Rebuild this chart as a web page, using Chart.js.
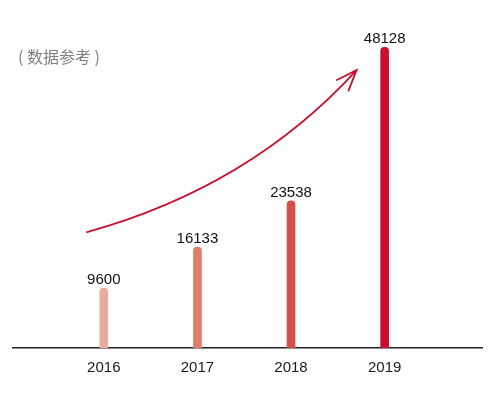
<!DOCTYPE html>
<html>
<head>
<meta charset="utf-8">
<script src="https://cdn.jsdelivr.net/npm/chart.js@4/dist/chart.umd.min.js"></script>
<style>
  html, body { margin: 0; padding: 0; background: #fff; }
  .grafico { width: 500px; height: 393px; position: relative; }
</style>
</head>
<body>
<div class="grafico"><canvas id="meuGrafico"></canvas></div>
<script>
// dados
const anos = [2016, 2017, 2018, 2019]
const valores = [9600, 16133, 23538, 48128]
const cores = ['#e9ab9c', '#dd7d6e', '#d2524a', '#c8102e']
const nota = '( 数据参考 )'
// seta de tendencia (pontos em unidades do grafico: ano, valor)
const setaInicio = [2015.82, 18560]
const setaControle = [2017.56, 25760]
const setaFim = [2018.70, 44480]

const fonte = '"Liberation Sans", Arial, sans-serif'

const pontos = anos.map((a, i) => ({ x: a, y: valores[i] }))

const pluginTextos = {
    id: 'textos',
    afterDatasetsDraw(chart) {
        const ctx = chart.ctx
        const meta = chart.getDatasetMeta(0)
        ctx.save()
        ctx.fillStyle = '#111'
        ctx.font = '15px ' + fonte
        ctx.textAlign = 'center'
        ctx.textBaseline = 'alphabetic'
        meta.data.forEach((bar, i) => {
            ctx.fillText(String(valores[i]), bar.x, bar.y - 4)
        })

        // seta
        const sx = chart.scales.x, sy = chart.scales.y
        const p0 = [sx.getPixelForValue(setaInicio[0]), sy.getPixelForValue(setaInicio[1])]
        const c = [sx.getPixelForValue(setaControle[0]), sy.getPixelForValue(setaControle[1])]
        const p2 = [sx.getPixelForValue(setaFim[0]), sy.getPixelForValue(setaFim[1])]
        ctx.strokeStyle = '#c8102e'
        ctx.lineWidth = 1.8
        ctx.lineCap = 'round'
        ctx.beginPath()
        ctx.moveTo(p0[0], p0[1])
        ctx.quadraticCurveTo(c[0], c[1], p2[0], p2[1])
        ctx.stroke()
        const ang = Math.atan2(p2[1] - c[1], p2[0] - c[0])
        const tam = 22, abre = 21 * Math.PI / 180
        ctx.beginPath()
        ctx.moveTo(p2[0] - tam * Math.cos(ang - abre), p2[1] - tam * Math.sin(ang - abre))
        ctx.lineTo(p2[0], p2[1])
        ctx.lineTo(p2[0] - tam * Math.cos(ang + abre), p2[1] - tam * Math.sin(ang + abre))
        ctx.stroke()

        // nota
        ctx.fillStyle = '#808080'
        ctx.font = '16px "Noto Sans CJK SC", sans-serif'
        ctx.textAlign = 'left'
        ctx.textBaseline = 'middle'
        ctx.fillText(nota, 18, 57)
        ctx.restore()
    }
}

const config = {
    type: 'bar',
    data: {
        datasets: [{
            data: pontos,
            backgroundColor: cores,
            barThickness: 8,
            borderRadius: { topLeft: 4, topRight: 4 },
            borderSkipped: 'start'
        }]
    },
    options: {
        responsive: true,
        maintainAspectRatio: false,
        animation: false,
        layout: { padding: { left: 13, right: 18, top: 0, bottom: 5 } },
        plugins: { legend: { display: false }, tooltip: { enabled: false } },
        scales: {
            x: {
                type: 'linear',
                offset: false,
                min: 2015.03,
                max: 2020.04,
                afterBuildTicks: (scale) => { scale.ticks = anos.map(a => ({ value: a })) },
                grid: { display: false, drawTicks: false, offset: false },
                border: { display: true, color: '#222', width: 1.5 },
                ticks: {
                    padding: 11,
                    color: '#1a1a1a',
                    font: { size: 15, family: fonte },
                    callback: (v) => String(v)
                }
            },
            y: {
                display: false,
                min: 0,
                max: 55700
            }
        }
    },
    plugins: [pluginTextos]
}

new Chart(document.getElementById('meuGrafico').getContext('2d'), config)
</script>
</body>
</html>
